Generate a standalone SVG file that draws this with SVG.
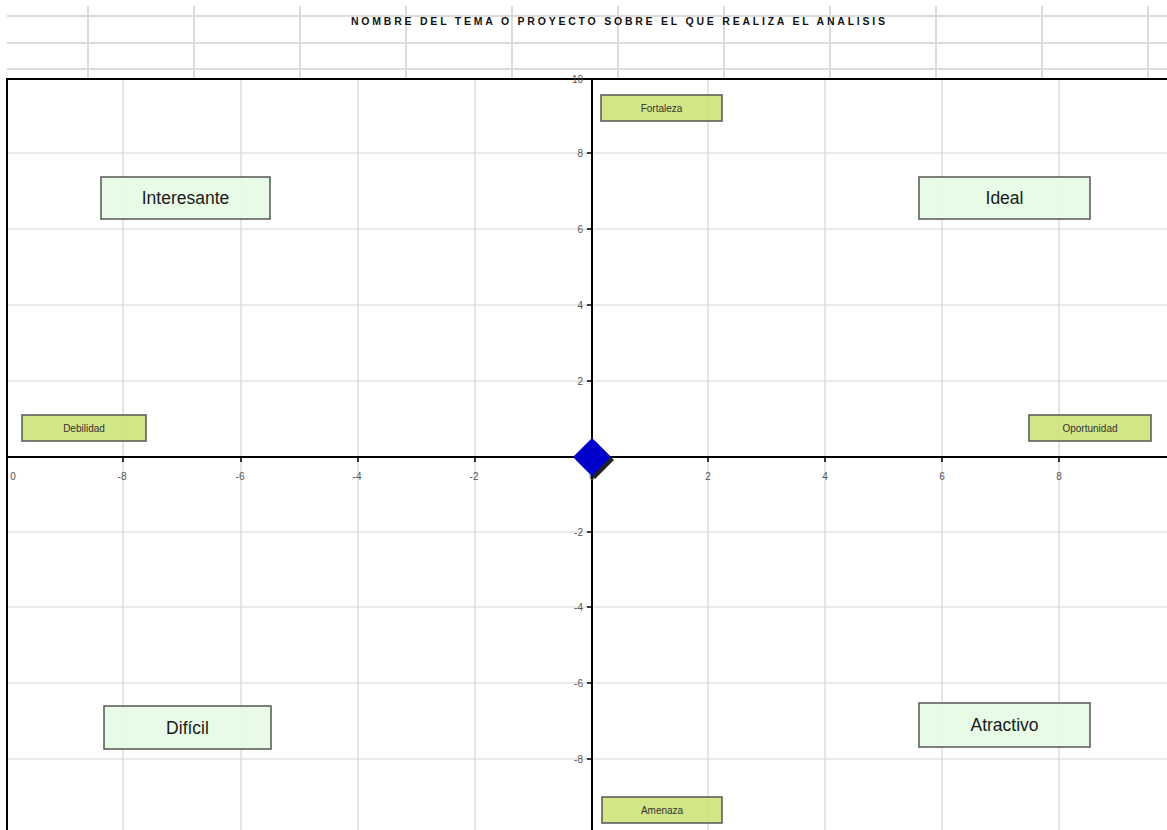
<svg xmlns="http://www.w3.org/2000/svg" width="1167" height="830" viewBox="0 0 1167 830">
<style>
.sheet{stroke:#dcdcdc;stroke-width:2;fill:none}
.grid{stroke:#d6d6d6;stroke-width:1.2;fill:none}
.axis{stroke:#000;stroke-width:2;fill:none}
.tick{stroke:#000;stroke-width:1.5}
.tl{font-family:"Liberation Sans",Arial,sans-serif;font-size:10px;fill:#555}
.small rect{fill:#cde27a;fill-opacity:0.9;stroke:#555;stroke-width:1.5}
.small text{font-family:"Liberation Sans",Arial,sans-serif;font-size:10px;fill:#333;text-anchor:middle}
.big rect{fill:#e4fbe4;fill-opacity:0.9;stroke:#555;stroke-width:1.5}
.big text{font-family:"Liberation Sans",Arial,sans-serif;font-size:17.5px;fill:#1a1a1a;text-anchor:middle}
</style>
<rect width="1167" height="830" fill="#fff"/>
<g id="sheet-grid">
<path class="sheet" d="M7 16H1167M7 43H1167M7 69H1167"/>
<path class="sheet" d="M88 6V79M194 6V79M300 6V79M406 6V79M512 6V79M618 6V79M724 6V79M830 6V79M936 6V79M1042 6V79M1148 6V79"/>
</g>
<text id="title" x="351" y="25" font-family="Liberation Sans,Arial,sans-serif" font-size="10.5" font-weight="bold" fill="#111" textLength="534" lengthAdjust="spacing">NOMBRE DEL TEMA O PROYECTO SOBRE  EL QUE REALIZA EL ANALISIS</text>
<g id="chart-grid">
<path class="grid" d="M7 153H1167M7 229H1167M7 305H1167M7 381H1167M7 532H1167M7 607H1167M7 683H1167M7 759H1167"/>
<path class="grid" d="M123 79V830M241 79V830M358 79V830M475 79V830M708 79V830M825 79V830M942 79V830M1059 79V830"/>
</g>
<g id="axes">
<path class="axis" d="M7 830V79H1167"/>
<path class="axis" d="M592 79V830M7 457H1167"/>
<path class="tick" d="M587 79H592M587 153H592M587 229H592M587 305H592M587 381H592M587 532H592M587 607H592M587 683H592M587 759H592"/>
<path class="tick" d="M123 457V462M241 457V462M358 457V462M475 457V462M592 457V462M708 457V462M825 457V462M942 457V462M1059 457V462"/>
</g>
<g id="y-labels" class="tl" text-anchor="end">
<text x="583" y="83">10</text>
<text x="583" y="157">8</text>
<text x="583" y="233">6</text>
<text x="583" y="309">4</text>
<text x="583" y="385">2</text>
<text x="583" y="461">0</text>
<text x="583" y="536">-2</text>
<text x="583" y="611">-4</text>
<text x="583" y="687">-6</text>
<text x="583" y="763">-8</text>
</g>
<g id="x-labels" class="tl" text-anchor="middle">
<text x="13" y="480">0</text>
<text x="122" y="480">-8</text>
<text x="240" y="480">-6</text>
<text x="357" y="480">-4</text>
<text x="474" y="480">-2</text>
<text x="592" y="480">0</text>
<text x="708" y="480">2</text>
<text x="825" y="480">4</text>
<text x="942" y="480">6</text>
<text x="1059" y="480">8</text>
</g>
<g id="fortaleza" class="small"><rect x="601" y="95" width="121" height="26"/><text x="661.5" y="112">Fortaleza</text></g>
<g id="debilidad" class="small"><rect x="22" y="415" width="124" height="26"/><text x="84" y="432">Debilidad</text></g>
<g id="oportunidad" class="small"><rect x="1029" y="415" width="122" height="26"/><text x="1090" y="432">Oportunidad</text></g>
<g id="amenaza" class="small"><rect x="602" y="797" width="120" height="26"/><text x="662" y="814">Amenaza</text></g>
<g id="interesante" class="big"><rect x="101" y="177" width="169" height="42"/><text x="185.5" y="204">Interesante</text></g>
<g id="ideal" class="big"><rect x="919" y="177" width="171" height="42"/><text x="1004.5" y="204">Ideal</text></g>
<g id="dificil" class="big"><rect x="104" y="706" width="167" height="43"/><text x="187.5" y="734">Difícil</text></g>
<g id="atractivo" class="big"><rect x="919" y="703" width="171" height="44"/><text x="1004.5" y="731">Atractivo</text></g>
<g id="point">
<path d="M595 441L614 460L595 479L576 460Z" fill="#222"/>
<path d="M592 438L611 457L592 476L573 457Z" fill="#0000cc"/>
</g>
</svg>
